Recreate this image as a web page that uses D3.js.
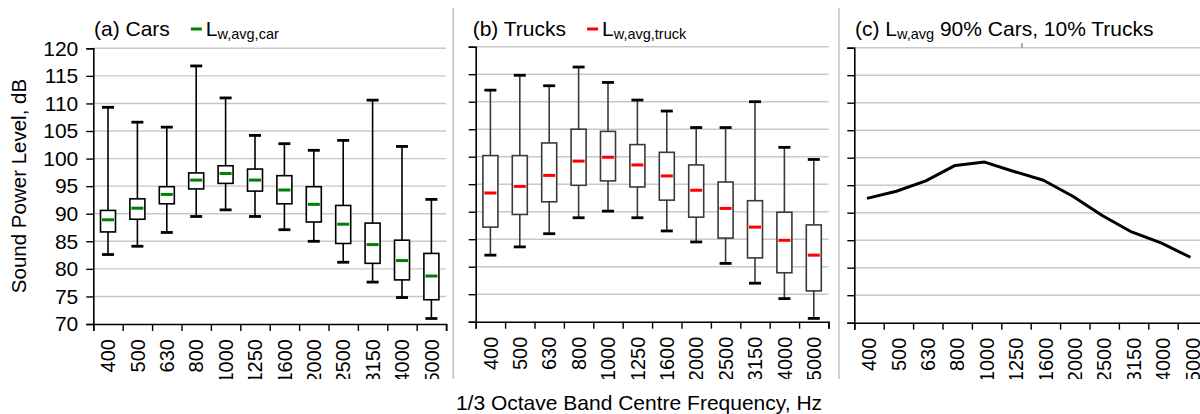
<!DOCTYPE html>
<html>
<head>
<meta charset="utf-8">
<script src="https://cdn.jsdelivr.net/npm/d3@7"></script>
<style>
    body { margin: 0; background: #fff; }
    svg { display: block; font-family: "Liberation Sans", Arial, sans-serif; }
</style>
</head>
<body>
<div id="chart"></div>
<script>
const freqs = ["400", "500", "630", "800", "1000", "1250", "1600", "2000", "2500", "3150", "4000", "5000"];
const yTicks = [70, 75, 80, 85, 90, 95, 100, 105, 110, 115, 120];

// cars: whisker max, box top, mean, box bottom, whisker min
const carMax = [109.3, 106.6, 105.7, 116.8, 111.0, 104.2, 102.7, 101.5, 103.3, 110.6, 102.2, 92.6];
const carQ3 = [90.6, 92.7, 94.9, 97.4, 98.7, 98.1, 96.9, 94.9, 91.5, 88.3, 85.2, 82.8];
const carMean = [88.9, 91.0, 93.5, 96.1, 97.3, 96.1, 94.3, 91.7, 88.1, 84.4, 81.5, 78.7];
const carQ1 = [86.7, 89.0, 91.8, 94.5, 95.5, 94.1, 91.8, 88.5, 84.6, 81.0, 78.0, 74.4];
const carMin = [82.6, 84.1, 86.6, 89.5, 90.7, 89.5, 87.1, 85.0, 81.2, 77.6, 74.8, 71.0];

// trucks
const truckMax = [112.1, 114.8, 112.9, 116.3, 113.5, 110.3, 108.3, 105.3, 105.3, 110.0, 101.7, 99.5];
const truckQ3 = [100.2, 100.2, 102.5, 105.0, 104.6, 102.2, 100.8, 98.5, 95.4, 92.0, 89.9, 87.6];
const truckMean = [93.4, 94.6, 96.6, 99.2, 99.9, 98.5, 96.5, 93.9, 90.6, 87.2, 84.8, 82.1];
const truckQ1 = [87.2, 89.5, 91.8, 94.8, 95.6, 94.5, 92.1, 89.0, 85.2, 81.6, 78.9, 75.6];
const truckMin = [82.1, 83.6, 86.0, 88.9, 90.1, 88.9, 86.5, 84.5, 80.6, 77.0, 74.2, 70.6];

// 90% cars / 10% trucks average
const mixAvg = [92.6, 93.9, 95.8, 98.6, 99.2, 97.5, 95.9, 93.0, 89.5, 86.5, 84.5, 81.9];

const width = 1200;
const height = 414;
const fontSize = "21px";

const svg = d3.select("#chart").append("svg")
    .attr("width", width)
    .attr("height", height);

svg.append("defs").append("clipPath")
    .attr("id", "panel-clip")
    .append("rect")
    .attr("x", 0).attr("y", 0)
    .attr("width", width).attr("height", 379);

const root = svg.append("g").attr("clip-path", "url(#panel-clip)");

function makePanel(left, top, bottom, showLabels) {
    const g = root.append("g");
    const bandW = 29.4;
    const x = d3.scaleBand()
        .domain(freqs)
        .range([left, left + bandW * freqs.length]);
    const y = d3.scaleLinear()
        .domain([70, 120])
        .range([bottom, top]);

    // grid
    g.append("g")
        .selectAll("line")
        .data(yTicks.slice(1))
        .enter()
        .append("line")
        .attr("x1", left)
        .attr("x2", x.range()[1])
        .attr("y1", d => y(d))
        .attr("y2", d => y(d))
        .attr("stroke", "#c8c8c8")
        .attr("stroke-width", 1.4);

    // y axis
    const yAxis = g.append("g")
        .attr("transform", `translate(${left},0)`)
        .call(d3.axisLeft(y).tickValues(yTicks).tickSize(7).tickPadding(8)
            .tickFormat(showLabels ? d3.format("d") : ""));
    yAxis.select(".domain").attr("stroke", "#000").attr("stroke-width", 1.6);
    yAxis.selectAll(".tick line").attr("stroke", "#000").attr("stroke-width", 1.4);
    yAxis.selectAll("text")
        .style("font-size", fontSize)
        .attr("fill", "#000");

    // x axis: ticks at band edges, labels at band centres
    const edge = d3.scaleLinear().domain([0, freqs.length]).range(x.range());
    const xEdges = g.append("g")
        .attr("transform", `translate(0,${bottom})`)
        .call(d3.axisBottom(edge).tickValues(d3.range(freqs.length + 1)).tickSize(7).tickFormat(""));
    xEdges.select(".domain").attr("stroke", "#000").attr("stroke-width", 1.6);
    xEdges.selectAll(".tick line").attr("stroke", "#000").attr("stroke-width", 1.4);

    const xLabels = g.append("g")
        .attr("transform", `translate(0,${bottom})`)
        .call(d3.axisBottom(x).tickSize(0));
    xLabels.select(".domain").remove();
    xLabels.selectAll("text")
        .attr("transform", "rotate(-90)")
        .attr("x", -15)
        .attr("y", 0)
        .attr("dy", "0.36em")
        .style("text-anchor", "end")
        .style("font-size", "20px")
        .attr("fill", "#000");

    return { g: g, x: x, y: y };
}

function drawBoxes(panel, mx, q3, mean, q1, mn, meanColor, lineColor) {
    const { g, x, y } = panel;
    const boxW = 15;
    const capW = 12;
    const rows = freqs.map((f, i) => ({ f: f, max: mx[i], q3: q3[i], mean: mean[i], q1: q1[i], min: mn[i] }));
    const cx = d => x(d.f) + x.bandwidth() / 2;

    const item = g.append("g").selectAll("g")
        .data(rows)
        .enter()
        .append("g");

    item.append("line")
        .attr("x1", cx).attr("x2", cx)
        .attr("y1", d => y(d.max)).attr("y2", d => y(d.min))
        .attr("stroke", lineColor)
        .attr("stroke-width", 1.6);

    item.append("rect")
        .attr("x", d => cx(d) - boxW / 2)
        .attr("y", d => y(d.q3))
        .attr("width", boxW)
        .attr("height", d => y(d.q1) - y(d.q3))
        .attr("fill", "#fff")
        .attr("stroke", lineColor)
        .attr("stroke-width", 1.6);

    ["max", "min"].forEach(k => {
        item.append("line")
            .attr("x1", d => cx(d) - capW / 2).attr("x2", d => cx(d) + capW / 2)
            .attr("y1", d => y(d[k])).attr("y2", d => y(d[k]))
            .attr("stroke", "#000")
            .attr("stroke-width", 2.8);
    });

    item.append("line")
        .attr("x1", d => cx(d) - capW / 2).attr("x2", d => cx(d) + capW / 2)
        .attr("y1", d => y(d.mean)).attr("y2", d => y(d.mean))
        .attr("stroke", meanColor)
        .attr("stroke-width", 3);
}

function titleWithLegend(xPos, label, dashColor, sub) {
    const t = svg.append("text")
        .attr("x", xPos)
        .attr("y", 36)
        .style("font-size", fontSize)
        .text(label);
    const w = t.node().getComputedTextLength();
    const dx = xPos + w + 21;
    svg.append("line")
        .attr("x1", dx).attr("x2", dx + 11)
        .attr("y1", 29).attr("y2", 29)
        .attr("stroke", dashColor)
        .attr("stroke-width", 3);
    const lt = svg.append("text")
        .attr("x", dx + 15)
        .attr("y", 36)
        .style("font-size", fontSize);
    lt.append("tspan").text("L");
    lt.append("tspan").attr("dy", 3).style("font-size", "14.5px").text(sub);
}

const panelA = makePanel(93.3, 48.3, 324, true);
const panelB = makePanel(475.7, 46.7, 321.7, false);
const panelC = makePanel(854.3, 47.7, 322.7, false);

drawBoxes(panelA, carMax, carQ3, carMean, carQ1, carMin, "#008000", "#000");
drawBoxes(panelB, truckMax, truckQ3, truckMean, truckQ1, truckMin, "#ff0000", "#3a3a3a");

// panel c line
const line = d3.line()
    .x((d, i) => panelC.x(freqs[i]) + panelC.x.bandwidth() / 2 - 2)
    .y(d => panelC.y(d));

panelC.g.append("path")
    .datum(mixAvg)
    .attr("d", line)
    .attr("fill", "none")
    .attr("stroke", "#000")
    .attr("stroke-width", 3)
    .attr("stroke-linejoin", "round");

// small stray tick above panel c
panelC.g.append("line")
    .attr("x1", 1022).attr("x2", 1022)
    .attr("y1", 43).attr("y2", 47.7)
    .attr("stroke", "#555")
    .attr("stroke-width", 1);

// separators
[453.3, 839].forEach(sx => {
    svg.append("line")
        .attr("x1", sx).attr("x2", sx)
        .attr("y1", 8).attr("y2", 379)
        .attr("stroke", "#c0c0c0")
        .attr("stroke-width", 1.5);
});

// titles
titleWithLegend(94, "(a) Cars", "#008000", "w,avg,car");
titleWithLegend(472.7, "(b) Trucks", "#ff0000", "w,avg,truck");

const tc = svg.append("text")
    .attr("x", 855)
    .attr("y", 36)
    .style("font-size", fontSize);
tc.append("tspan").text("(c) L");
tc.append("tspan").attr("dy", 3).style("font-size", "14.5px").text("w,avg");
tc.append("tspan").attr("dy", -3).text(" 90% Cars, 10% Trucks");

// axis titles
svg.append("text")
    .attr("transform", "translate(26,186) rotate(-90)")
    .style("text-anchor", "middle")
    .style("font-size", "20.5px")
    .text("Sound Power Level, dB");

svg.append("text")
    .attr("x", 639)
    .attr("y", 410)
    .style("text-anchor", "middle")
    .style("font-size", fontSize)
    .text("1/3 Octave Band Centre Frequency, Hz");
</script>
</body>
</html>
